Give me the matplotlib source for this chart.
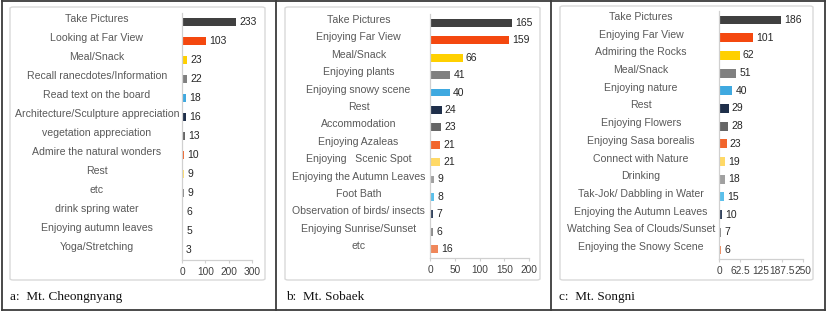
import matplotlib
matplotlib.use("Agg")
import matplotlib.pyplot as plt
from matplotlib import transforms
from matplotlib.patches import FancyBboxPatch
from matplotlib.lines import Line2D

# ---------------- data ----------------
cats_a = ["Take Pictures", "Looking at Far View", "Meal/Snack",
          "Recall ranecdotes/Information", "Read text on the board",
          "Architecture/Sculpture appreciation", "vegetation appreciation",
          "Admire the natural wonders", "Rest", "etc", "drink spring water",
          "Enjoying autumn leaves", "Yoga/Stretching"]
vals_a = [233, 103, 23, 22, 18, 16, 13, 10, 9, 9, 6, 5, 3]
ticks_a = [0, 100, 200, 300]
ticklabels_a = ["0", "100", "200", "300"]

cats_b = ["Take Pictures", "Enjoying Far View", "Meal/Snack", "Enjoying plants",
          "Enjoying snowy scene", "Rest", "Accommodation", "Enjoying Azaleas",
          "Enjoying   Scenic Spot", "Enjoying the Autumn Leaves", "Foot Bath",
          "Observation of birds/ insects", "Enjoying Sunrise/Sunset", "etc"]
vals_b = [165, 159, 66, 41, 40, 24, 23, 21, 21, 9, 8, 7, 6, 16]
ticks_b = [0, 50, 100, 150, 200]
ticklabels_b = ["0", "50", "100", "150", "200"]

cats_c = ["Take Pictures", "Enjoying Far View", "Admiring the Rocks", "Meal/Snack",
          "Enjoying nature", "Rest", "Enjoying Flowers", "Enjoying Sasa borealis",
          "Connect with Nature", "Drinking", "Tak-Jok/ Dabbling in Water",
          "Enjoying the Autumn Leaves", "Watching Sea of Clouds/Sunset",
          "Enjoying the Snowy Scene"]
vals_c = [186, 101, 62, 51, 40, 29, 28, 23, 19, 18, 15, 10, 7, 6]
ticks_c = [0, 62.5, 125, 187.5, 250]
ticklabels_c = ["0", "62.5", "125", "187.5", "250"]

captions = ["a:  Mt. Cheongnyang", "b:  Mt. Sobaek", "c:  Mt. Songni"]

# ---------------- style ----------------
colors = ['#404040', '#F4480F', '#FFD000', '#808080', '#3FA9E0', '#1F2F4A',
          '#666666', '#F2652C', '#FFD966', '#A0A0A0', '#5BC0EB', '#34445E',
          '#8C8C8C', '#F0875A']
colors_a = ['#404040', '#F4480F', '#FFD000', '#808080', '#3FA9E0', '#1F2F4A',
            '#666666', '#F2652C', '#FFE070', '#8C8C8C', '#5BC0EB', '#34445E',
            '#A6A6A6']

W, H = 827, 312
fig = plt.figure(figsize=(W / 100, H / 100), dpi=100)
fig.patch.set_facecolor('white')


def fx(x):
    return x / W


def fy(y):
    return 1 - y / H


# outer frame
frame_col = '#3C3C3C'
for x in [1.5, 276, 551, 824.5]:
    fig.add_artist(Line2D([fx(x), fx(x)], [fy(1), fy(309.5)], color=frame_col, lw=1.3,
                          transform=fig.transFigure))
for y in [1, 309.5]:
    fig.add_artist(Line2D([fx(1.5), fx(824.5)], [fy(y), fy(y)], color=frame_col, lw=1.3,
                          transform=fig.transFigure))

# inner boxes
boxes = [(10, 7, 265, 280), (285, 7, 540, 280), (560, 6, 813, 280)]
for (x0, y0, x1, y1) in boxes:
    fig.add_artist(FancyBboxPatch((fx(x0), fy(y1)), fx(x1) - fx(x0), fy(y0) - fy(y1),
                                  boxstyle="round,pad=0,rounding_size=0.004",
                                  transform=fig.transFigure, facecolor='white',
                                  edgecolor='#D9D9D9', lw=1.0, zorder=0))

panels = [
    (cats_a, vals_a, ticks_a, ticklabels_a, colors_a, (182, 252, 12.5, 259.5), 97, 0.45),
    (cats_b, vals_b, ticks_b, ticklabels_b, colors, (430, 529, 14.3, 257.7), 358.5, 0.45),
    (cats_c, vals_c, ticks_c, ticklabels_c, colors, (719, 803, 11.2, 258.8), 641, 0.5),
]

label_font = 'Liberation Sans'
for cats, vals, ticks, tlabels, cols, (l, r, t, b), lx, bh in panels:
    ax = fig.add_axes([fx(l), fy(b), fx(r) - fx(l), fy(t) - fy(b)])
    ax.set_facecolor('none')
    n = len(cats)
    ypos = list(range(n))
    ax.barh(ypos, vals, height=bh, color=cols[:n], zorder=2)
    ax.set_xlim(ticks[0], ticks[-1])
    ax.set_ylim(n - 0.5, -0.5)
    ax.set_yticks([])
    ax.set_xticks(ticks)
    ax.set_xticklabels(tlabels, fontsize=7.3, color='#404040', family=label_font)
    ax.tick_params(axis='x', length=2.5, width=0.8, color='#D0D0D0', pad=3)
    for s in ['top', 'right']:
        ax.spines[s].set_visible(False)
    ax.spines['left'].set_color('#D0D0D0')
    ax.spines['bottom'].set_color('#D0D0D0')
    ax.spines['left'].set_linewidth(0.9)
    ax.spines['bottom'].set_linewidth(0.9)
    for i, v in enumerate(vals):
        ax.annotate(str(v), (v, i), xytext=(2.2, 0), textcoords='offset points',
                    va='center', ha='left', fontsize=7.5, color='#262626',
                    family=label_font)
    tr = transforms.blended_transform_factory(fig.transFigure, ax.transData)
    for i, c in enumerate(cats):
        ax.text(fx(lx), i - 0.17, c, transform=tr, ha='center', va='center',
                fontsize=7.6, color='#595959', family=label_font, clip_on=False)

# captions
for (x, txt) in zip([10, 286, 559], captions):
    fig.text(fx(x), fy(297), txt, ha='left', va='center', fontsize=9.5,
             family=['Liberation Serif', 'DejaVu Serif'], color='#111111')

fig.savefig('out.png', dpi=100)
